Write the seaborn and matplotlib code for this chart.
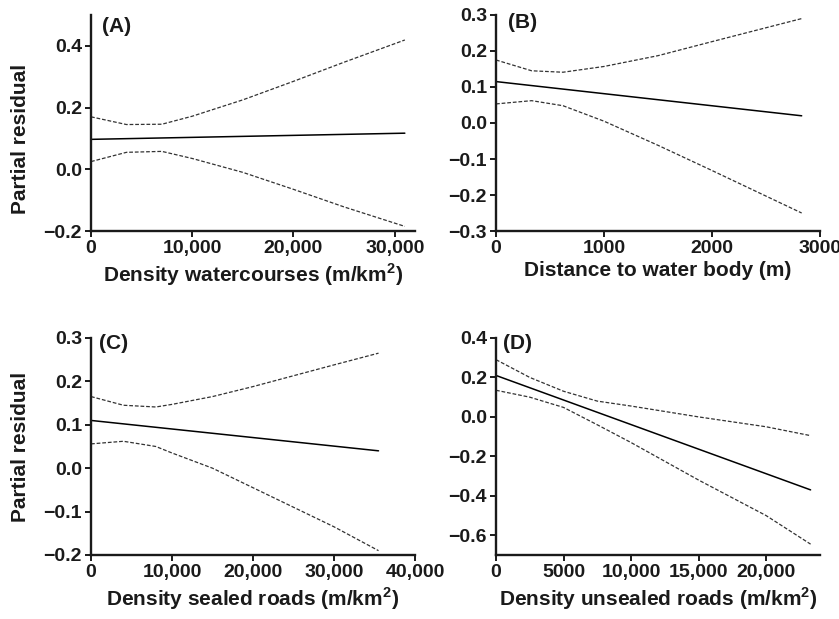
import numpy as np
import pandas as pd
import seaborn as sns
import matplotlib.pyplot as plt

# === Panel A: density of watercourses ===
a_fit_x = [0, 31000]
a_fit_y = [0.097, 0.117]
a_ci_x = [0, 3500, 7000, 10000, 15000, 20000, 25000, 31000]
a_upper = [0.170, 0.145, 0.146, 0.172, 0.225, 0.285, 0.347, 0.419]
a_lower = [0.025, 0.055, 0.058, 0.035, -0.010, -0.065, -0.122, -0.185]

# === Panel B: distance to water body ===
b_fit_x = [0, 2830]
b_fit_y = [0.115, 0.020]
b_ci_x = [0, 330, 620, 1000, 1500, 2000, 2830]
b_upper = [0.175, 0.145, 0.141, 0.157, 0.187, 0.226, 0.290]
b_lower = [0.053, 0.062, 0.048, 0.005, -0.062, -0.132, -0.250]

# === Panel C: density of sealed roads ===
c_fit_x = [0, 35500]
c_fit_y = [0.110, 0.040]
c_ci_x = [0, 4000, 8000, 10000, 15000, 20000, 25000, 30000, 35500]
c_upper = [0.165, 0.145, 0.141, 0.147, 0.165, 0.188, 0.213, 0.238, 0.265]
c_lower = [0.056, 0.062, 0.050, 0.035, 0.000, -0.045, -0.090, -0.135, -0.190]

# === Panel D: density of unsealed roads ===
d_fit_x = [0, 23300]
d_fit_y = [0.210, -0.370]
d_ci_x = [0, 2500, 5000, 7500, 10000, 15000, 20000, 23300]
d_upper = [0.290, 0.200, 0.130, 0.080, 0.055, 0.000, -0.050, -0.095]
d_lower = [0.135, 0.100, 0.048, -0.040, -0.130, -0.320, -0.500, -0.645]

panels = [
    dict(tag="(A)", tagpos=(0.034, 0.99), fx=a_fit_x, fy=a_fit_y, cx=a_ci_x,
         up=a_upper, lo=a_lower,
         xlabel="Density watercourses (m/km$^\\mathbf{2}$)",
         xticks=[0, 10000, 20000, 30000], xlabels=["0", "10,000", "20,000", "30,000"],
         yticks=[-0.2, 0.0, 0.2, 0.4], ylabels=["\u22120.2", "0.0", "0.2", "0.4"],
         xlim=(0, 32000), ylim=(-0.2, 0.5), ylab=0.426),
    dict(tag="(B)", tagpos=(0.037, 1.01), fx=b_fit_x, fy=b_fit_y, cx=b_ci_x,
         up=b_upper, lo=b_lower,
         xlabel="Distance to water body (m)",
         xticks=[0, 1000, 2000, 3000], xlabels=["0", "1000", "2000", "3000"],
         yticks=[-0.3, -0.2, -0.1, 0.0, 0.1, 0.2, 0.3],
         ylabels=["\u22120.3", "\u22120.2", "\u22120.1", "0.0", "0.1", "0.2", "0.3"],
         xlim=(0, 3000), ylim=(-0.3, 0.3), ylab=None),
    dict(tag="(C)", tagpos=(0.024, 1.02), fx=c_fit_x, fy=c_fit_y, cx=c_ci_x,
         up=c_upper, lo=c_lower,
         xlabel="Density sealed roads (m/km$^\\mathbf{2}$)",
         xticks=[0, 10000, 20000, 30000, 40000],
         xlabels=["0", "10,000", "20,000", "30,000", "40,000"],
         yticks=[-0.2, -0.1, 0.0, 0.1, 0.2, 0.3],
         ylabels=["\u22120.2", "\u22120.1", "0.0", "0.1", "0.2", "0.3"],
         xlim=(0, 40000), ylim=(-0.2, 0.3), ylab=0.5),
    dict(tag="(D)", tagpos=(0.022, 1.02), fx=d_fit_x, fy=d_fit_y, cx=d_ci_x,
         up=d_upper, lo=d_lower,
         xlabel="Density unsealed roads (m/km$^\\mathbf{2}$)",
         xticks=[0, 5000, 10000, 15000, 20000],
         xlabels=["0", "5000", "10,000", "15,000", "20,000"],
         yticks=[-0.6, -0.4, -0.2, 0.0, 0.2, 0.4],
         ylabels=["\u22120.6", "\u22120.4", "\u22120.2", "0.0", "0.2", "0.4"],
         xlim=(0, 24000), ylim=(-0.7, 0.4), ylab=None),
]

sns.set_style("ticks")
plt.rcParams["font.family"] = ["Liberation Sans", "DejaVu Sans"]
plt.rcParams["font.weight"] = "bold"
plt.rcParams["mathtext.fontset"] = "custom"
plt.rcParams["mathtext.bf"] = "Liberation Sans:bold"
plt.rcParams["mathtext.rm"] = "Liberation Sans:bold"

ink = "#1a1a1a"
fig = plt.figure(figsize=(8.39, 6.19), dpi=100)
boxes = [
    [0.1085, 0.6268, 0.3861, 0.3490],
    [0.5912, 0.6268, 0.3862, 0.3490],
    [0.1085, 0.1034, 0.3861, 0.3506],
    [0.5912, 0.1034, 0.3862, 0.3506],
]

for box, p in zip(boxes, panels):
    ax = fig.add_axes(box)
    sns.lineplot(x=p["fx"], y=p["fy"], ax=ax, color="black", lw=1.1)
    sns.lineplot(x=p["cx"], y=p["up"], ax=ax, color="#333333", lw=0.9,
                 linestyle=(0, (3, 1.5)))
    sns.lineplot(x=p["cx"], y=p["lo"], ax=ax, color="#333333", lw=0.9,
                 linestyle=(0, (3, 1.5)))
    ax.set_xlim(*p["xlim"])
    ax.set_ylim(*p["ylim"])
    ax.set_xticks(p["xticks"])
    ax.set_xticklabels(p["xlabels"])
    ax.set_yticks(p["yticks"])
    ax.set_yticklabels(p["ylabels"])
    ax.tick_params(labelsize=14, width=1.4, length=4, color=ink,
                   labelcolor=ink, pad=2.5)
    for s in ["left", "bottom"]:
        ax.spines[s].set_linewidth(1.7)
        ax.spines[s].set_color(ink)
    sns.despine(ax=ax)
    ax.set_xlabel(p["xlabel"], fontsize=15, fontweight="bold", color=ink,
                  labelpad=3)
    if p["ylab"] is not None:
        ax.set_ylabel("Partial residual", fontsize=15, fontweight="bold",
                      color=ink, labelpad=10)
        ax.yaxis.label.set_y(p["ylab"])
    ax.text(p["tagpos"][0], p["tagpos"][1], p["tag"], transform=ax.transAxes,
            ha="left", va="top", fontsize=15, fontweight="bold", color=ink)

fig.savefig("out.png", dpi=100)
